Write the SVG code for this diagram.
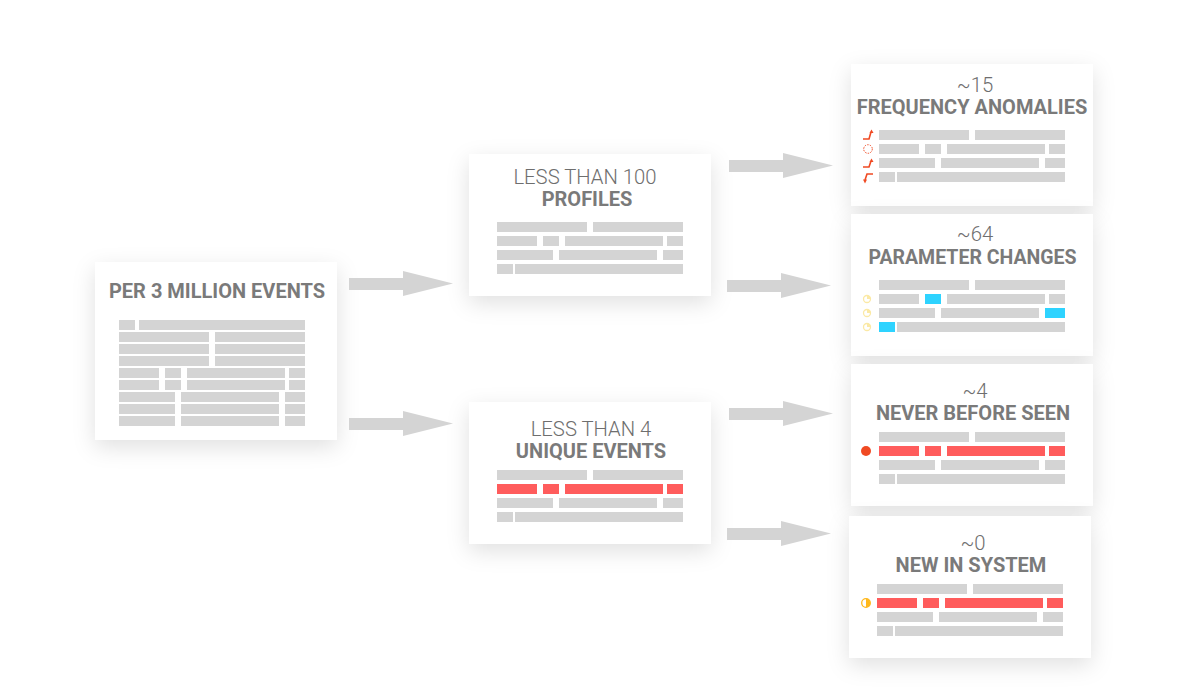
<svg xmlns="http://www.w3.org/2000/svg" width="1193" height="698" viewBox="0 0 1193 698">
<style>
.card{fill:#fff;filter:url(#sh)}
.b{fill:#d4d4d4}
.r{fill:#ff5c5c}
.c{fill:#2ed3ff}
.arrow{fill:#d4d4d4}
text{font-family:Roboto,"Liberation Sans",sans-serif;fill:#7a7a7a;text-anchor:middle;font-size:20px}
.t{font-weight:700}
.l{font-weight:300;font-size:20.300px;fill:#6e6e6e}
.ic{fill:none;stroke:#f04a23;stroke-width:1.600}
.ih{fill:#f04a23}
.y{fill:none;stroke:#fbe9a5;stroke-width:1.300}
</style>
<defs>
<filter id="sh" x="-30%" y="-30%" width="160%" height="170%"><feDropShadow dx="0" dy="7" stdDeviation="11" flood-color="#000" flood-opacity="0.12"/></filter>
<polygon id="ar" points="0,-6 54,-6 54,-13 104,-0.5 54,12 54,6 0,6"/>
<g id="rows"><rect class="b" x="0" y="0" width="90" height="10"/><rect class="b" x="96" y="0" width="90" height="10"/>
<rect class="b" x="0" y="28" width="56" height="10"/><rect class="b" x="62" y="28" width="98" height="10"/><rect class="b" x="166" y="28" width="20" height="10"/>
<rect class="b" x="0" y="42" width="16" height="10"/><rect class="b" x="18" y="42" width="168" height="10"/></g>
<g id="r2g"><rect class="b" x="0" y="0" width="40" height="10"/><rect class="b" x="46" y="0" width="16" height="10"/><rect class="b" x="68" y="0" width="98" height="10"/><rect class="b" x="170" y="0" width="16" height="10"/></g>
<g id="r2r"><rect class="r" x="0" y="0" width="40" height="10"/><rect class="r" x="46" y="0" width="16" height="10"/><rect class="r" x="68" y="0" width="98" height="10"/><rect class="r" x="170" y="0" width="16" height="10"/></g>
</defs>

<g id="node-source">
<rect class="card" x="95" y="262" width="242" height="178"/>
<text class="t" x="217" y="298">PER 3 MILLION EVENTS</text>
<rect class="b" x="119" y="320" width="16" height="10"/><rect class="b" x="139" y="320" width="166" height="10"/>
<rect class="b" x="119" y="332" width="90" height="10"/><rect class="b" x="215" y="332" width="90" height="10"/>
<rect class="b" x="119" y="344" width="90" height="10"/><rect class="b" x="215" y="344" width="90" height="10"/>
<rect class="b" x="119" y="356" width="90" height="10"/><rect class="b" x="215" y="356" width="90" height="10"/>
<use href="#r2g" x="119" y="368"/><use href="#r2g" x="119" y="380"/>
<rect class="b" x="119" y="392" width="56" height="10"/><rect class="b" x="181" y="392" width="98" height="10"/><rect class="b" x="285" y="392" width="20" height="10"/>
<rect class="b" x="119" y="404" width="56" height="10"/><rect class="b" x="181" y="404" width="98" height="10"/><rect class="b" x="285" y="404" width="20" height="10"/>
<rect class="b" x="119" y="416" width="56" height="10"/><rect class="b" x="181" y="416" width="98" height="10"/><rect class="b" x="285" y="416" width="20" height="10"/>
</g>

<g id="node-profiles">
<rect class="card" x="469" y="154" width="242" height="142"/>
<text class="l" x="585" y="184">LESS THAN 100</text>
<text class="t" x="587" y="206">PROFILES</text>
<use href="#rows" x="497" y="222"/><use href="#r2g" x="497" y="236"/>
</g>

<g id="node-unique">
<rect class="card" x="469" y="402" width="242" height="142"/>
<text class="l" x="591" y="436">LESS THAN 4</text>
<text class="t" x="591" y="458">UNIQUE EVENTS</text>
<use href="#rows" x="497" y="470"/><use href="#r2r" x="497" y="484"/>
</g>

<g id="node-frequency">
<rect class="card" x="851" y="64" width="242" height="142"/>
<text class="l" x="975" y="92">~15</text>
<text class="t" x="972" y="114">FREQUENCY ANOMALIES</text>
<use href="#rows" x="879" y="130"/><use href="#r2g" x="879" y="144"/>
<path class="ic" d="M863,139H869L871,132"/><path class="ih" d="M869.500,133L871.500,129.500L873.500,133Z"/>
<circle cx="868" cy="149" r="4.300" fill="none" stroke="#f04a23" stroke-width="1" stroke-dasharray="1.500 1.200"/>
<path class="ic" d="M863,167H869L871,161"/><path class="ih" d="M869.500,162L871.500,158.500L873.500,162Z"/>
<path class="ic" d="M873,174H867L865,180"/><path class="ih" d="M863,179.500L865,183.500L867,179.500Z"/>
</g>

<g id="node-parameter">
<rect class="card" x="851" y="214" width="242" height="142"/>
<text class="l" x="975" y="241">~64</text>
<text class="t" x="972.500" y="264" style="font-size:19.500px">PARAMETER CHANGES</text>
<use href="#rows" x="879" y="280"/><use href="#r2g" x="879" y="294"/>
<rect class="c" x="925" y="294" width="16" height="10"/><rect class="c" x="1045" y="308" width="20" height="10"/><rect class="c" x="879" y="322" width="16" height="10"/>
<g class="y"><circle cx="867" cy="299" r="3.500"/><circle cx="867" cy="313" r="3.500"/><circle cx="867" cy="327" r="3.500"/></g>
<path d="M867,299V295.500A3.500,3.500 0 0 1 870.500,299Z M867,313V309.500A3.500,3.500 0 0 1 870.500,313Z M867,327V323.500A3.500,3.500 0 0 1 870.500,327Z" fill="#fbe9a5"/>
</g>

<g id="node-never">
<rect class="card" x="851" y="364" width="242" height="142"/>
<text class="l" x="975" y="398">~4</text>
<text class="t" x="973" y="420">NEVER BEFORE SEEN</text>
<use href="#rows" x="879" y="432"/><use href="#r2r" x="879" y="446"/>
<circle cx="866" cy="451" r="5" fill="#f04a23"/>
</g>

<g id="node-new">
<rect class="card" x="849" y="516" width="242" height="142"/>
<text class="l" x="973" y="550">~0</text>
<text class="t" x="971" y="572">NEW IN SYSTEM</text>
<use href="#rows" x="877" y="584"/><use href="#r2r" x="877" y="598"/>
<circle cx="866" cy="603" r="4.300" fill="none" stroke="#ffb81c" stroke-width="1.300"/>
<path d="M866,598.700A4.300,4.300 0 0 1 866,607.300Z" fill="#ffb81c"/>
</g>

<g id="connectors" class="arrow">
<use href="#ar" x="349" y="284"/>
<use href="#ar" x="349" y="424"/>
<use href="#ar" x="729" y="166"/>
<use href="#ar" x="727" y="286"/>
<use href="#ar" x="729" y="414"/>
<use href="#ar" x="727" y="534"/>
</g>
</svg>
